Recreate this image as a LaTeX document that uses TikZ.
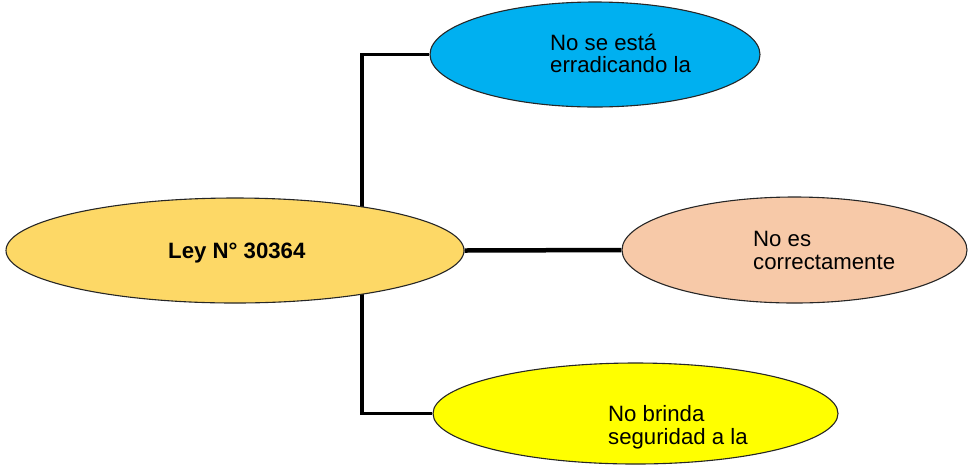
\documentclass[tikz,border=0pt]{standalone}
\usepackage{fontspec}
\setmainfont{Liberation Sans}
\usetikzlibrary{shapes.geometric,backgrounds}
\definecolor{cgold}{HTML}{FDD866}
\definecolor{cblue}{HTML}{00B0F0}
\definecolor{cpeach}{HTML}{F7C9A8}
\definecolor{cyel}{HTML}{FFFF00}
\tikzset{
  oval/.style={ellipse,draw=black!85,line width=1.1pt,inner sep=0pt},
  lbl/.style={inner sep=0pt,align=left,anchor=base west,font=\fontsize{22.2}{23}\selectfont},
  conn/.style={line width=3.3pt,line join=miter,draw=black},
}
\begin{document}
\begin{tikzpicture}[x=1pt,y=-1pt]
\useasboundingbox (0,0) rectangle (968,467);
\node[oval,fill=cgold,minimum width=458,minimum height=105] (ley) at (235,250.5) {};
\node[oval,fill=cblue,minimum width=330,minimum height=105] (a) at (595,54.5) {};
\node[oval,fill=cpeach,minimum width=345,minimum height=106] (b) at (794.5,250) {};
\node[oval,fill=cyel,minimum width=405,minimum height=101] (c) at (635.5,413.5) {};
\coordinate (c1) at (362,54.5);
\coordinate (c2) at (362,413.5);
\begin{scope}[on background layer]
\draw[conn] (a.west) -- (c1) -- (c2) -- (c.west);
\draw[conn,line width=4.5pt] (ley.east) -- (b.west);
\end{scope}
\node[lbl,font=\fontsize{22.2}{23}\selectfont\bfseries] (tley) at (168,258.5) {Ley N° 30364};
\node[lbl] (ta1) at (550,50) {No se está};
\node[lbl] (ta2) at (550,72.5) {erradicando la};
\node[lbl] (tb1) at (753,246) {No es};
\node[lbl] (tb2) at (753,269) {correctamente};
\node[lbl] (tc1) at (608,421) {No brinda};
\node[lbl] (tc2) at (608,444) {seguridad a la};
\end{tikzpicture}
\end{document}
